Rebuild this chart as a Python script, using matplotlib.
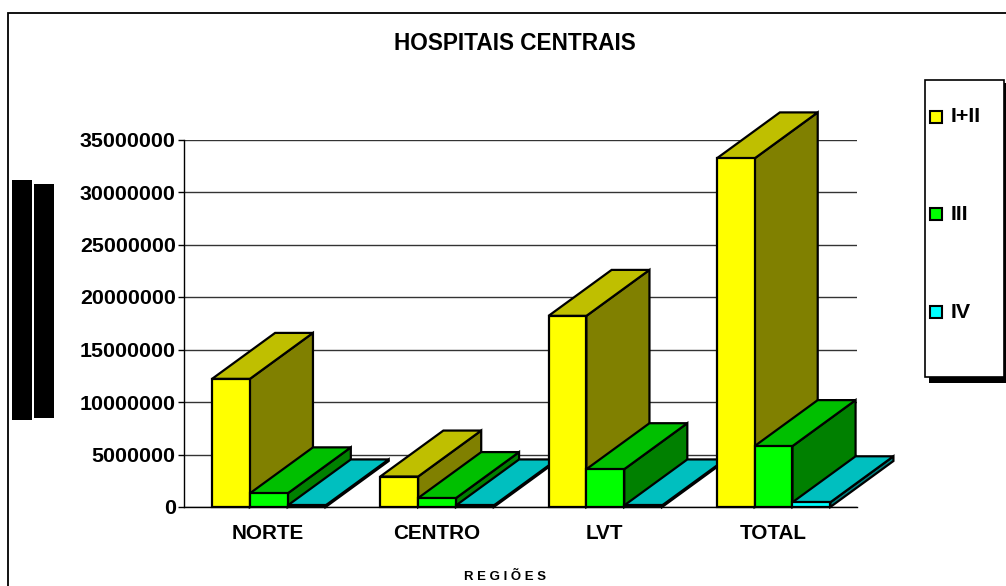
import matplotlib
matplotlib.use("Agg")
import matplotlib.pyplot as plt
from matplotlib.patches import Polygon, Rectangle

plt.rcParams['font.family'] = ['Liberation Sans', 'DejaVu Sans']

categories = ["NORTE", "CENTRO", "LVT", "TOTAL"]
series_names = ["I+II", "III", "IV"]
values_1 = [12200000, 2900000, 18200000, 33200000]
values_2 = [1300000, 850000, 3600000, 5800000]
values_3 = [150000, 150000, 150000, 450000]
y_ticks = [0, 5000000, 10000000, 15000000, 20000000, 25000000, 30000000, 35000000]

W, H = 1006, 586
front = ["#ffff00", "#00ff00", "#00ffff"]
top = ["#bfbf00", "#00bf00", "#00bfbf"]
side = ["#808000", "#008000", "#008080"]


# pixel box (top-left origin) to figure fraction
def fx(x):
    return x / W


def fy(y):
    return 1 - y / H


fig = plt.figure(figsize=(W / 100, H / 100), dpi=100, facecolor="white")

# outer frame and the blacked out y label
fig.add_artist(Rectangle((fx(8), fy(600)), fx(1010), 587 / H, fill=False, ec="black", lw=1.3,
                         transform=fig.transFigure))
fig.add_artist(Rectangle((fx(12), fy(420)), fx(20), 240 / H, fc="black", ec="none", transform=fig.transFigure))
fig.add_artist(Rectangle((fx(34), fy(418)), fx(20), 234 / H, fc="black", ec="none", transform=fig.transFigure))

ax = fig.add_axes([fx(184), fy(507), fx(673), 367.5 / H])
ax.set_xlim(0, 4)
ax.set_ylim(0, 35000000)
ax.set_facecolor("none")
for s in ["top", "right"]:
    ax.spines[s].set_visible(False)
for s in ["left", "bottom"]:
    ax.spines[s].set_linewidth(1.0)
ax.set_axisbelow(True)
ax.yaxis.grid(True, color="#333333", lw=1.0)
ax.set_yticks(y_ticks)
ax.set_yticklabels([str(v) for v in y_ticks], fontsize=15.4, fontweight="bold")
ax.set_xticks([0.5, 1.5, 2.5, 3.5])
ax.set_xticklabels(categories, fontsize=14.9, fontweight="bold")
ax.tick_params(axis="y", length=4.5, width=1, pad=1.5)
ax.tick_params(axis="x", length=0, pad=12.5)

bar_w = 0.225
start = 0.1665
dx = 0.375         # depth of the 3d effect, x units
dy = 4380000       # same in y units

for i in range(len(categories)):
    for j, vals in enumerate([values_1, values_2, values_3]):
        x0 = i + start + j * bar_w
        x1 = x0 + bar_w
        v = vals[i]
        kw = dict(ec="black", lw=1.6, joinstyle="miter", clip_on=False)
        ax.add_patch(Polygon([(x1, 0), (x1 + dx, dy), (x1 + dx, v + dy), (x1, v)], fc=side[j], **kw))
        ax.add_patch(Polygon([(x0, v), (x0 + dx, v + dy), (x1 + dx, v + dy), (x1, v)], fc=top[j], **kw))
        ax.add_patch(Polygon([(x0, 0), (x0, v), (x1, v), (x1, 0)], fc=front[j], **kw))

fig.text(fx(514.5), fy(44), "HOSPITAIS CENTRAIS", fontsize=16.3, fontweight="bold", ha="center", va="center")
fig.text(fx(504.5), fy(577), "R E G I Õ E S", fontsize=9.5, fontweight="bold", ha="center", va="center")

# legend box with its shadow
fig.add_artist(Rectangle((fx(929), fy(383)), fx(77), 300 / H, fc="black", ec="none", transform=fig.transFigure))
fig.add_artist(Rectangle((fx(925), fy(377)), fx(79), 297 / H, fc="white", ec="black", lw=1.2,
                         transform=fig.transFigure))
for name, col, y in zip(series_names, front, [117, 214, 312]):
    fig.add_artist(Rectangle((fx(930), fy(y + 6)), fx(12), 12 / H, fc=col, ec="black", lw=1.5,
                             transform=fig.transFigure))
    fig.text(fx(951), fy(y), name, fontsize=15.4, fontweight="bold", ha="left", va="center")

fig.savefig("out.png", dpi=100)
